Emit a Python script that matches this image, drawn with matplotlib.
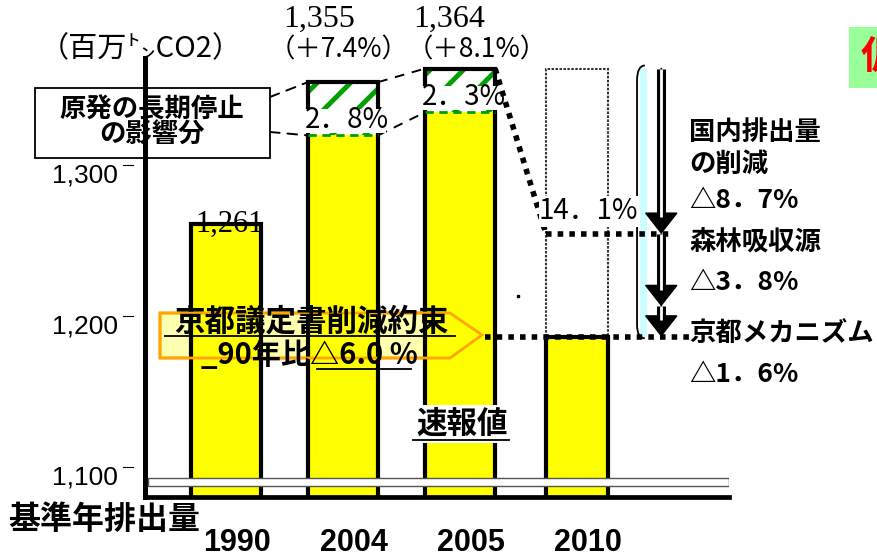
import numpy as np
import matplotlib
matplotlib.use("Agg")
import matplotlib.pyplot as plt
import matplotlib.transforms as mtransforms
from matplotlib.patches import Rectangle, Polygon, PathPatch, ConnectionPatch
from matplotlib.path import Path

plt.rcParams['font.family'] = ['Noto Sans CJK JP', 'DejaVu Sans']
plt.rcParams['hatch.linewidth'] = 3.5

# ---------------- DATA ----------------
years = ["1990", "2004", "2005", "2010"]
emissions = [1261, 1355, 1364, 1186]          # 百万トンCO2
value_labels = ["1,261", "1,355", "1,364", ""]
change_labels = ["", "（＋7.4%）", "（＋8.1%）", ""]
nuclear_pct = [0, 2.8, 2.3, 0]                # 原発の長期停止の影響分 (% of base year)
nuclear_labels = ["", "2．8%", "2．3%", ""]
base_year = 1261

gap_label = "14．1%"
cut_pct = [8.7, 3.8, 1.6]                     # 国内排出量 / 森林吸収源 / 京都メカニズム
yticks = [1100, 1200, 1300]
ytick_labels = ["1,100", "1,200", "1,300"]

W, H = 877, 559


def fp(px, py):
    # figure pixel (from top-left) -> figure fraction
    return px / W, 1 - py / H


nuclear = np.array(nuclear_pct) * base_year / 100
totals = np.array(emissions, dtype=float)
yellow_top = totals - nuclear

lvl0 = emissions[2]
levels = [lvl0]
for p in cut_pct:
    levels.append(levels[-1] - p * base_year / 100)

# ---------------- PLOT ----------------
fig = plt.figure(figsize=(W / 100, H / 100), dpi=100)
ax = fig.add_axes([145 / W, 1 - 497 / H, 584 / W, 439 / H])
ax.set_xlim(-0.692, 4.299)
ax.set_ylim(1080, 1371)
ax.set_xticks([])
ax.set_yticks([])
for s in ["top", "right"]:
    ax.spines[s].set_visible(False)
ax.spines["left"].set_linewidth(3.6)
ax.spines["bottom"].set_linewidth(3.4)

blend = mtransforms.blended_transform_factory(ax.transAxes, ax.transData)
blend_x = mtransforms.blended_transform_factory(ax.transData, ax.transAxes)

x = np.arange(len(years))
widths = [0.6, 0.6, 0.6, 0.53]

ax.bar(x, yellow_top, width=widths, color="#ffff00", zorder=2)
ax.bar(x, nuclear, bottom=yellow_top, width=widths, facecolor="white",
       edgecolor="#00a000", hatch="/", lw=0, zorder=2)
ax.bar(x, totals, width=widths, fill=False, edgecolor="k", lw=3, zorder=2.2)
for i in x:
    if nuclear[i] > 0:
        ax.hlines(yellow_top[i], i - widths[i] / 2, i + widths[i] / 2,
                  colors="#00a000", linestyles=(0, (3, 2)), lw=2, zorder=2.3)

# dotted target box for 2010
ax.bar(3, levels[0] - levels[-1], bottom=levels[-1], width=widths[3], fill=False,
       edgecolor="#333333", lw=1.5, linestyle=(0, (1.2, 0.7)), zorder=2.1)

# axis break band
ax.add_patch(Rectangle((0.005, 1087.4), 0.995, 5.3, transform=blend,
                       facecolor="white", edgecolor="#555555", lw=1, zorder=3))

# y ticks (detached marks)
for v, lbl in zip(yticks, ytick_labels):
    ax.plot([-0.0377, -0.0205], [v, v], transform=blend, color="k", lw=0.8, clip_on=False)
    ax.text(-0.046, v + 1, lbl, transform=blend, ha="right", va="top",
            fontfamily="Liberation Sans", fontsize=19)

# value labels
ax.text(0.03, emissions[0], value_labels[0], ha="center", va="center",
        fontfamily="Liberation Serif", fontsize=22, zorder=5)
value_dx = [0, -0.2, -0.09]
paren_dx = [0, -0.04, 0.14]
for i in [1, 2]:
    ax.text(i + value_dx[i], 1.087, value_labels[i], transform=blend_x, ha="center",
            va="center", fontfamily="Liberation Serif", fontsize=23)
    ax.text(i + paren_dx[i], 1.018, change_labels[i], transform=blend_x, ha="center",
            va="center", fontsize=19)
    ax.add_patch(Rectangle((i - widths[i] / 2 - 0.03, yellow_top[i] + 1.5),
                           widths[i] + 0.1, 16, facecolor="white", edgecolor="none",
                           zorder=2.25))
    ax.text(i + 0.03, yellow_top[i] + 10, nuclear_labels[i], ha="center", va="center",
            fontsize=20, zorder=5)

# dashed connectors between hatched / yellow tops
ax.add_artist(ConnectionPatch(fp(270, 97), (1 - widths[1] / 2, totals[1]),
                              coordsA="figure fraction", coordsB=ax.transData,
                              ls=(0, (5, 4)), lw=1.4, color="k"))
ax.add_artist(ConnectionPatch(fp(270, 132), (1 - widths[1] / 2, yellow_top[1]),
                              coordsA="figure fraction", coordsB=ax.transData,
                              ls=(0, (5, 4)), lw=1.4, color="k"))
ax.plot([1 + widths[1] / 2, 2 - widths[2] / 2], [totals[1], totals[2]],
        color="k", lw=1.4, ls=(0, (5, 4)))
ax.plot([1 + widths[1] / 2, 2 - widths[2] / 2], [yellow_top[1], yellow_top[2]],
        color="k", lw=1.4, ls=(0, (5, 4)))

# thick dotted guides
dot = dict(color="k", lw=4, ls=(0, (1, 1.1)), zorder=4, clip_on=False)
left10 = 3 - widths[3] / 2
ax.plot([2 + widths[2] / 2, left10], [totals[2], levels[1]], **dot)
ax.plot([left10, 3.79], [levels[1], levels[1]], **dot)
ax.plot([2.21, 3.97], [levels[3], levels[3]], **dot)

ax.text(3.1, levels[1] + 15, gap_label, ha="center", va="center", fontsize=20, zorder=5,
        bbox=dict(facecolor="white", edgecolor="none", pad=0.3))

# brace + cyan strip
ax.add_patch(Rectangle((3.54, levels[3]), 0.06, levels[0] - levels[3],
                       facecolor="#ccffff", edgecolor="none", zorder=1))
bx = 3.513
brace = Path([(3.58, levels[0] + 2), (bx, levels[0] + 2), (bx, levels[0] - 8),
              (bx, levels[3] + 8), (bx, levels[3] - 1), (3.58, levels[3] - 1)],
             [Path.MOVETO, Path.CURVE3, Path.CURVE3, Path.LINETO, Path.CURVE3, Path.CURVE3])
ax.add_patch(PathPatch(brace, fill=False, lw=1.3, edgecolor="k", zorder=3))

# double-line arrows
xa = 3.72
head_len = 11
for y0, y1 in zip(levels[:-1], levels[1:]):
    ax.annotate("", xy=(xa, y1), xytext=(xa, y0),
                arrowprops=dict(arrowstyle="-|>,head_width=1.1,head_length=1.4",
                                color="k", lw=1.2, shrinkA=0, shrinkB=0), zorder=3)
    ax.plot([xa, xa], [y0, y1 + head_len], color="k", lw=6.5, solid_capstyle="butt", zorder=4)
    ax.plot([xa, xa], [y0, y1 + head_len], color="white", lw=2, solid_capstyle="butt", zorder=4.1)

# right labels
right_txt = [("国内排出量", 132), ("の削減", 164), ("△8．7%", 200),
             ("森林吸収源", 243), ("△3．8%", 283), ("京都メカニズム", 333), ("△1．6%", 374)]
for t, py in right_txt:
    fig.text(*fp(689, py), t, ha="left", va="center", fontsize=19, fontweight="bold")

# 原発 box
ax.add_patch(Rectangle(fp(35, 158), 235 / W, 70 / H, transform=fig.transFigure,
                       facecolor="white", edgecolor="k", lw=1.3, clip_on=False, zorder=2.3))
ax.text(*fp(152, 110), "原発の長期停止", transform=fig.transFigure, ha="center",
        va="center", fontsize=19, fontweight="bold", zorder=2.4)
ax.text(*fp(152, 135), "の影響分", transform=fig.transFigure, ha="center",
        va="center", fontsize=19, fontweight="bold", zorder=2.4)

# 京都議定書 arrow box
pent = [fp(160, 313), fp(450, 313), fp(482, 335), fp(450, 358), fp(160, 358)]
ax.add_patch(Polygon(pent, closed=True, transform=fig.transFigure, facecolor="#ffffb0",
                     edgecolor="#ffa500", lw=2, clip_on=False, zorder=1.5))
ax.add_patch(Polygon(pent, closed=True, transform=fig.transFigure, fill=False,
                     edgecolor="#ffa500", lw=2, clip_on=False, zorder=3))
ax.text(*fp(311, 322), "京都議定書削減約束", transform=fig.transFigure, ha="center",
        va="center", fontsize=22, fontweight="bold", zorder=5)
ax.plot(*zip(fp(165, 336), fp(455, 336)), transform=fig.transFigure, color="k",
        lw=1.3, clip_on=False, zorder=5)
ax.text(*fp(309, 355), "_90年比△6.0 %", transform=fig.transFigure, ha="center",
        va="center", fontsize=21, fontweight="bold", zorder=5)
ax.plot(*zip(fp(317, 369), fp(411, 369)), transform=fig.transFigure, color="k",
        lw=1.3, clip_on=False, zorder=5)

# 速報値
ax.text(*fp(462, 424), "速報値", transform=fig.transFigure, ha="center", va="center",
        fontsize=22, fontweight="bold", zorder=5,
        bbox=dict(facecolor="white", edgecolor="none", pad=2))
ax.plot(*zip(fp(413, 440), fp(509, 440)), transform=fig.transFigure, color="k",
        lw=1.3, clip_on=False, zorder=5.1)
ax.plot(*fp(518, 296), marker="s", ms=1.5, color="k", transform=fig.transFigure)

# x labels
for i, yr in enumerate(years):
    ax.text(i + 0.09, -0.105, yr, transform=blend_x, ha="center", va="center",
            fontfamily="Liberation Sans", fontsize=22, fontweight="bold")
fig.text(*fp(104, 520), "基準年排出量", ha="center", va="center", fontsize=23,
         fontweight="bold")

# unit
fig.text(*fp(141, 49), "（百万㌧CO2）", ha="center", va="center", fontsize=21)

# corner tag
fig.patches.append(Rectangle(fp(849, 88), 28 / W, 61 / H, transform=fig.transFigure,
                             facecolor="#99ff99", edgecolor="none"))
fig.text(*fp(861, 58), "仮", color="red", fontsize=28, fontweight="bold",
         ha="left", va="center")

fig.savefig("out.png", dpi=100)
